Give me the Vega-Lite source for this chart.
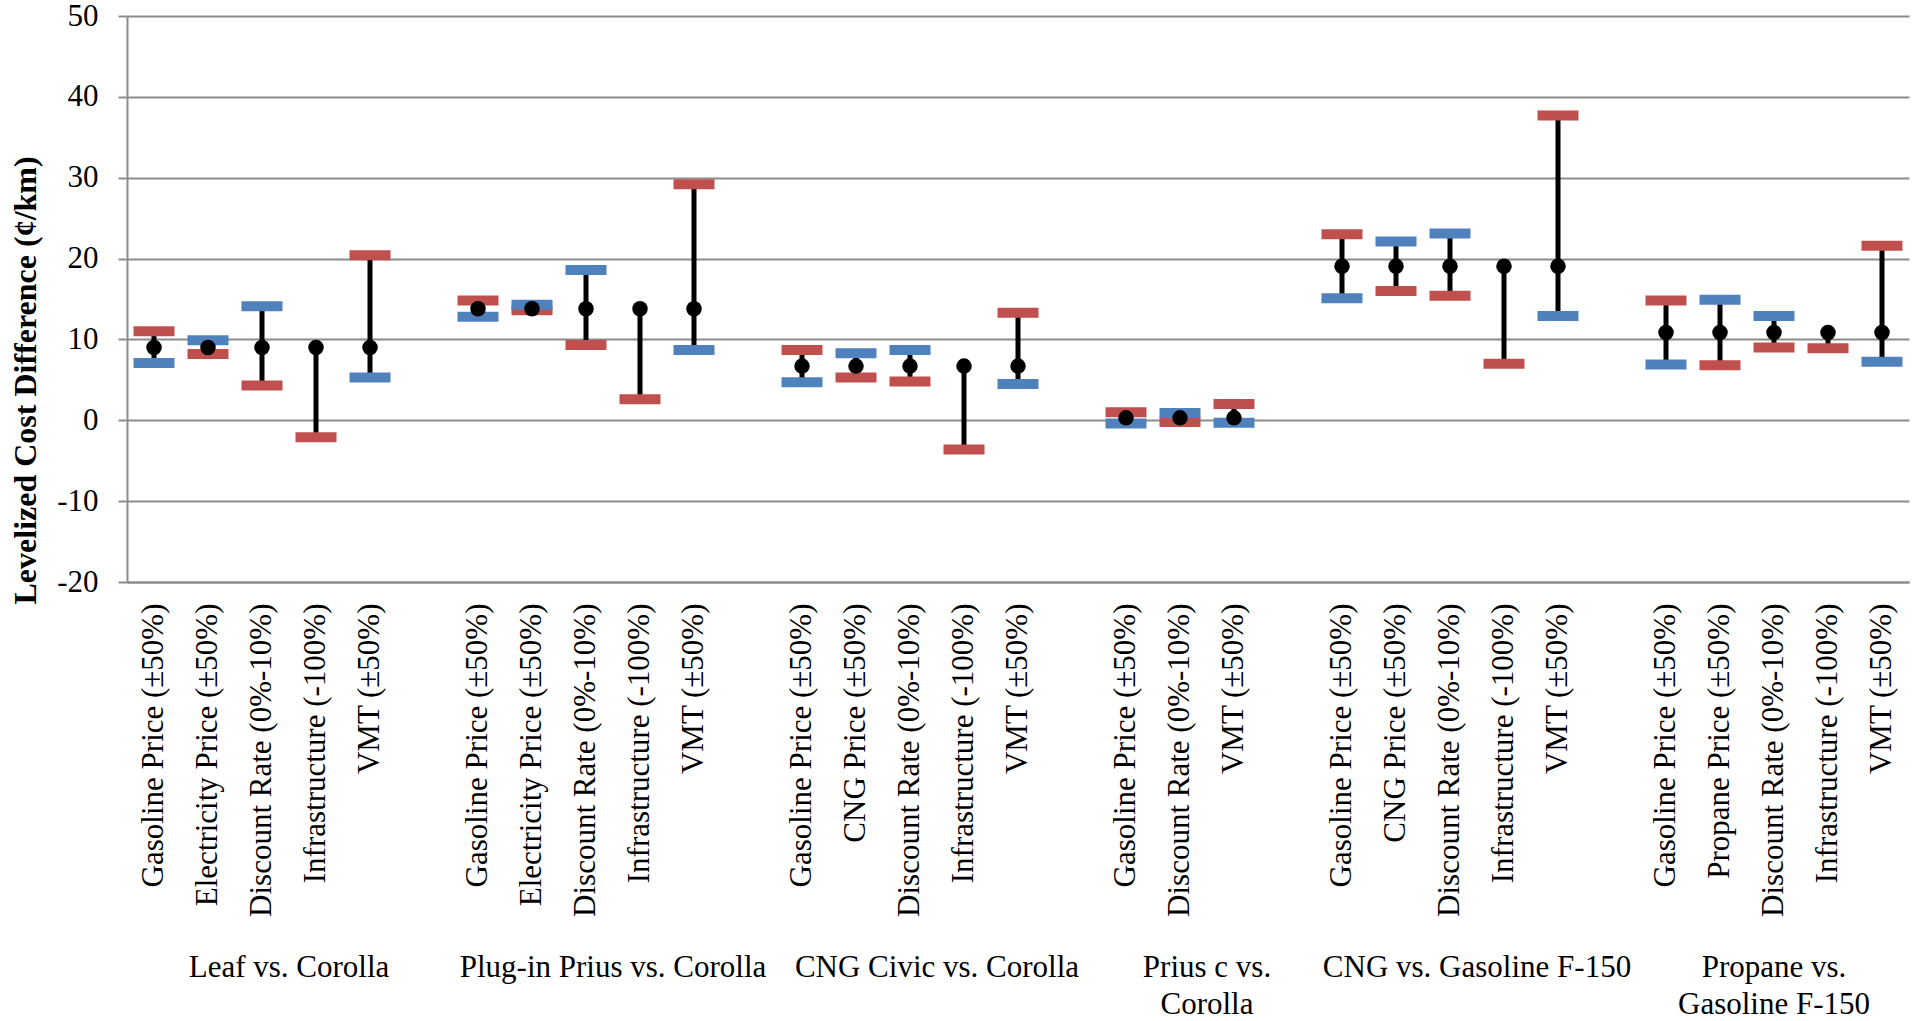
{
  "$schema": "https://vega.github.io/schema/vega-lite/v6.json",
  "width": 1782,
  "height": 566,
  "autosize": {"type": "none"},
  "padding": {"left": 127, "top": 16, "right": 14, "bottom": 439},
  "background": "white",
  "config": {
    "view": {"stroke": null},
    "font": "Liberation Serif"
  },
  "data": {
    "values": [
      {"id": "Leaf vs. Corolla|Gasoline Price (±50%)", "base": 9.0, "red": 11.0, "blue": 7.1},
      {"id": "Leaf vs. Corolla|Electricity Price (±50%)", "base": 9.0, "red": 8.2, "blue": 9.9},
      {"id": "Leaf vs. Corolla|Discount Rate (0%-10%)", "base": 9.0, "red": 4.3, "blue": 14.1},
      {"id": "Leaf vs. Corolla|Infrastructure (-100%)", "base": 9.0, "red": -2.1, "blue": null},
      {"id": "Leaf vs. Corolla|VMT (±50%)", "base": 9.0, "red": 20.4, "blue": 5.3},
      {"id": "Plug-in Prius vs. Corolla|Gasoline Price (±50%)", "base": 13.8, "red": 14.8, "blue": 12.8},
      {"id": "Plug-in Prius vs. Corolla|Electricity Price (±50%)", "base": 13.8, "red": 13.6, "blue": 14.3},
      {"id": "Plug-in Prius vs. Corolla|Discount Rate (0%-10%)", "base": 13.8, "red": 9.3, "blue": 18.6},
      {"id": "Plug-in Prius vs. Corolla|Infrastructure (-100%)", "base": 13.8, "red": 2.6, "blue": null},
      {"id": "Plug-in Prius vs. Corolla|VMT (±50%)", "base": 13.8, "red": 29.2, "blue": 8.7},
      {"id": "CNG Civic vs. Corolla|Gasoline Price (±50%)", "base": 6.7, "red": 8.7, "blue": 4.7},
      {"id": "CNG Civic vs. Corolla|CNG Price (±50%)", "base": 6.7, "red": 5.3, "blue": 8.3},
      {"id": "CNG Civic vs. Corolla|Discount Rate (0%-10%)", "base": 6.7, "red": 4.8, "blue": 8.7},
      {"id": "CNG Civic vs. Corolla|Infrastructure (-100%)", "base": 6.7, "red": -3.6, "blue": null},
      {"id": "CNG Civic vs. Corolla|VMT (±50%)", "base": 6.7, "red": 13.3, "blue": 4.5},
      {"id": "Prius c vs.\nCorolla|Gasoline Price (±50%)", "base": 0.3, "red": 1.0, "blue": -0.4},
      {"id": "Prius c vs.\nCorolla|Discount Rate (0%-10%)", "base": 0.3, "red": -0.2, "blue": 0.9},
      {"id": "Prius c vs.\nCorolla|VMT (±50%)", "base": 0.3, "red": 2.0, "blue": -0.3},
      {"id": "CNG vs. Gasoline F-150|Gasoline Price (±50%)", "base": 19.05, "red": 23.0, "blue": 15.1},
      {"id": "CNG vs. Gasoline F-150|CNG Price (±50%)", "base": 19.05, "red": 16.0, "blue": 22.1},
      {"id": "CNG vs. Gasoline F-150|Discount Rate (0%-10%)", "base": 19.05, "red": 15.4, "blue": 23.1},
      {"id": "CNG vs. Gasoline F-150|Infrastructure (-100%)", "base": 19.05, "red": 7.0, "blue": null},
      {"id": "CNG vs. Gasoline F-150|VMT (±50%)", "base": 19.05, "red": 37.7, "blue": 12.9},
      {"id": "Propane vs.\nGasoline F-150|Gasoline Price (±50%)", "base": 10.85, "red": 14.8, "blue": 6.9},
      {"id": "Propane vs.\nGasoline F-150|Propane Price (±50%)", "base": 10.85, "red": 6.8, "blue": 14.9},
      {"id": "Propane vs.\nGasoline F-150|Discount Rate (0%-10%)", "base": 10.85, "red": 9.0, "blue": 12.9},
      {"id": "Propane vs.\nGasoline F-150|Infrastructure (-100%)", "base": 10.85, "red": 8.9, "blue": null},
      {"id": "Propane vs.\nGasoline F-150|VMT (±50%)", "base": 10.85, "red": 21.6, "blue": 7.25}
    ]
  },
  "encoding": {
    "x": {
      "field": "id", "type": "nominal",
      "scale": {"domain": ["Leaf vs. Corolla|Gasoline Price (±50%)", "Leaf vs. Corolla|Electricity Price (±50%)", "Leaf vs. Corolla|Discount Rate (0%-10%)", "Leaf vs. Corolla|Infrastructure (-100%)", "Leaf vs. Corolla|VMT (±50%)", "gap1", "Plug-in Prius vs. Corolla|Gasoline Price (±50%)", "Plug-in Prius vs. Corolla|Electricity Price (±50%)", "Plug-in Prius vs. Corolla|Discount Rate (0%-10%)", "Plug-in Prius vs. Corolla|Infrastructure (-100%)", "Plug-in Prius vs. Corolla|VMT (±50%)", "gap2", "CNG Civic vs. Corolla|Gasoline Price (±50%)", "CNG Civic vs. Corolla|CNG Price (±50%)", "CNG Civic vs. Corolla|Discount Rate (0%-10%)", "CNG Civic vs. Corolla|Infrastructure (-100%)", "CNG Civic vs. Corolla|VMT (±50%)", "gap3", "Prius c vs.\nCorolla|Gasoline Price (±50%)", "Prius c vs.\nCorolla|Discount Rate (0%-10%)", "Prius c vs.\nCorolla|VMT (±50%)", "gap4", "CNG vs. Gasoline F-150|Gasoline Price (±50%)", "CNG vs. Gasoline F-150|CNG Price (±50%)", "CNG vs. Gasoline F-150|Discount Rate (0%-10%)", "CNG vs. Gasoline F-150|Infrastructure (-100%)", "CNG vs. Gasoline F-150|VMT (±50%)", "gap5", "Propane vs.\nGasoline F-150|Gasoline Price (±50%)", "Propane vs.\nGasoline F-150|Propane Price (±50%)", "Propane vs.\nGasoline F-150|Discount Rate (0%-10%)", "Propane vs.\nGasoline F-150|Infrastructure (-100%)", "Propane vs.\nGasoline F-150|VMT (±50%)"], "paddingInner": 0, "paddingOuter": 0},
      "axis": null
    }
  },
  "layer": [
    {
      "mark": {"type": "rule", "color": "black", "strokeWidth": 5},
      "encoding": {
        "x": {
          "field": "id", "type": "nominal",
          "scale": {"domain": ["Leaf vs. Corolla|Gasoline Price (±50%)", "Leaf vs. Corolla|Electricity Price (±50%)", "Leaf vs. Corolla|Discount Rate (0%-10%)", "Leaf vs. Corolla|Infrastructure (-100%)", "Leaf vs. Corolla|VMT (±50%)", "gap1", "Plug-in Prius vs. Corolla|Gasoline Price (±50%)", "Plug-in Prius vs. Corolla|Electricity Price (±50%)", "Plug-in Prius vs. Corolla|Discount Rate (0%-10%)", "Plug-in Prius vs. Corolla|Infrastructure (-100%)", "Plug-in Prius vs. Corolla|VMT (±50%)", "gap2", "CNG Civic vs. Corolla|Gasoline Price (±50%)", "CNG Civic vs. Corolla|CNG Price (±50%)", "CNG Civic vs. Corolla|Discount Rate (0%-10%)", "CNG Civic vs. Corolla|Infrastructure (-100%)", "CNG Civic vs. Corolla|VMT (±50%)", "gap3", "Prius c vs.\nCorolla|Gasoline Price (±50%)", "Prius c vs.\nCorolla|Discount Rate (0%-10%)", "Prius c vs.\nCorolla|VMT (±50%)", "gap4", "CNG vs. Gasoline F-150|Gasoline Price (±50%)", "CNG vs. Gasoline F-150|CNG Price (±50%)", "CNG vs. Gasoline F-150|Discount Rate (0%-10%)", "CNG vs. Gasoline F-150|Infrastructure (-100%)", "CNG vs. Gasoline F-150|VMT (±50%)", "gap5", "Propane vs.\nGasoline F-150|Gasoline Price (±50%)", "Propane vs.\nGasoline F-150|Propane Price (±50%)", "Propane vs.\nGasoline F-150|Discount Rate (0%-10%)", "Propane vs.\nGasoline F-150|Infrastructure (-100%)", "Propane vs.\nGasoline F-150|VMT (±50%)"], "paddingInner": 0, "paddingOuter": 0},
          "axis": {
            "orient": "bottom",
            "title": null,
            "labelAngle": -90,
            "labelExpr": "indexof(datum.label, '|') >= 0 ? split(datum.label, '|')[1] : ''",
            "labelFont": "Liberation Serif",
            "labelFontSize": 31,
            "labelColor": "black",
            "labelPadding": 21,
            "labelLimit": 600,
            "labelOverlap": false,
            "labelBound": false,
            "ticks": false,
            "domain": true,
            "domainColor": "#8c8c8c",
            "domainWidth": 2,
            "grid": false
          }
        },
        "y": {
          "field": "base", "type": "quantitative",
          "scale": {"domain": [-20, 50], "nice": false, "zero": false},
          "axis": {
            "values": [-20, -10, 0, 10, 20, 30, 40, 50],
            "labelExpr": "toString(datum.value)",
            "title": "Levelized Cost Difference (¢/km)",
            "titleFont": "Liberation Serif",
            "titleFontSize": 32,
            "titleFontWeight": "bold",
            "titleColor": "black",
            "titlePadding": 14,
            "titleAngle": -90,
            "titleAlign": "left",
            "titleY": 588,
            "labelFont": "Liberation Serif",
            "labelFontSize": 31,
            "labelColor": "black",
            "labelPadding": 20,
            "grid": true,
            "gridColor": "#8c8c8c",
            "gridWidth": 2,
            "domain": true,
            "domainColor": "#8c8c8c",
            "domainWidth": 2,
            "ticks": true,
            "tickSize": 9,
            "tickColor": "#8c8c8c",
            "tickWidth": 2
          }
        },
        "y2": {"field": "red"}
      }
    },
    {
      "transform": [{"filter": "datum.blue != null"}],
      "mark": {"type": "rule", "color": "black", "strokeWidth": 5},
      "encoding": {
        "y": {"field": "base", "type": "quantitative"},
        "y2": {"field": "blue"}
      }
    },
    {
      "mark": {"type": "tick", "color": "#C0504D", "size": 41, "thickness": 10, "opacity": 1},
      "encoding": {
        "y": {"field": "red", "type": "quantitative"}
      }
    },
    {
      "transform": [{"filter": "datum.blue != null"}],
      "mark": {"type": "tick", "color": "#4F81BD", "size": 41, "thickness": 10, "opacity": 1},
      "encoding": {
        "y": {"field": "blue", "type": "quantitative"}
      }
    },
    {
      "mark": {"type": "circle", "color": "black", "size": 240, "opacity": 1},
      "encoding": {
        "x": {
          "field": "id", "type": "nominal",
          "scale": {"domain": ["Leaf vs. Corolla|Gasoline Price (±50%)", "Leaf vs. Corolla|Electricity Price (±50%)", "Leaf vs. Corolla|Discount Rate (0%-10%)", "Leaf vs. Corolla|Infrastructure (-100%)", "Leaf vs. Corolla|VMT (±50%)", "gap1", "Plug-in Prius vs. Corolla|Gasoline Price (±50%)", "Plug-in Prius vs. Corolla|Electricity Price (±50%)", "Plug-in Prius vs. Corolla|Discount Rate (0%-10%)", "Plug-in Prius vs. Corolla|Infrastructure (-100%)", "Plug-in Prius vs. Corolla|VMT (±50%)", "gap2", "CNG Civic vs. Corolla|Gasoline Price (±50%)", "CNG Civic vs. Corolla|CNG Price (±50%)", "CNG Civic vs. Corolla|Discount Rate (0%-10%)", "CNG Civic vs. Corolla|Infrastructure (-100%)", "CNG Civic vs. Corolla|VMT (±50%)", "gap3", "Prius c vs.\nCorolla|Gasoline Price (±50%)", "Prius c vs.\nCorolla|Discount Rate (0%-10%)", "Prius c vs.\nCorolla|VMT (±50%)", "gap4", "CNG vs. Gasoline F-150|Gasoline Price (±50%)", "CNG vs. Gasoline F-150|CNG Price (±50%)", "CNG vs. Gasoline F-150|Discount Rate (0%-10%)", "CNG vs. Gasoline F-150|Infrastructure (-100%)", "CNG vs. Gasoline F-150|VMT (±50%)", "gap5", "Propane vs.\nGasoline F-150|Gasoline Price (±50%)", "Propane vs.\nGasoline F-150|Propane Price (±50%)", "Propane vs.\nGasoline F-150|Discount Rate (0%-10%)", "Propane vs.\nGasoline F-150|Infrastructure (-100%)", "Propane vs.\nGasoline F-150|VMT (±50%)"], "paddingInner": 0, "paddingOuter": 0},
          "axis": {
            "orient": "bottom",
            "title": null,
            "values": ["Leaf vs. Corolla|Discount Rate (0%-10%)", "Plug-in Prius vs. Corolla|Discount Rate (0%-10%)", "CNG Civic vs. Corolla|Discount Rate (0%-10%)", "Prius c vs.\nCorolla|Discount Rate (0%-10%)", "CNG vs. Gasoline F-150|Discount Rate (0%-10%)", "Propane vs.\nGasoline F-150|Discount Rate (0%-10%)"],
            "labelExpr": "split(split(datum.label, '|')[0], '\\n')",
            "labelAngle": 0,
            "labelAlign": "center",
            "labelBaseline": "top",
            "labelOffset": {"condition": {"test": "indexof(datum.label, 'Propane') >= 0", "value": 0}, "value": 27},
            "labelFont": "Liberation Serif",
            "labelFontSize": 31,
            "labelColor": "black",
            "labelLineHeight": 37,
            "labelPadding": 0,
            "labelLimit": 600,
            "labelOverlap": false,
            "labelBound": false,
            "offset": 370,
            "ticks": false,
            "domain": false,
            "grid": false
          }
        },
        "y": {"field": "base", "type": "quantitative"}
      }
    }
  ],
  "resolve": {"axis": {"x": "independent"}}
}
